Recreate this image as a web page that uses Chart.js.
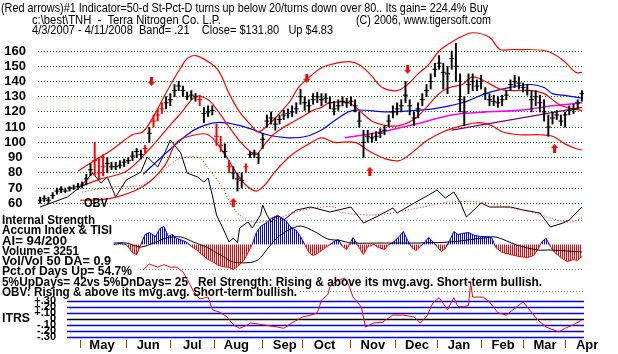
<!DOCTYPE html>
<html>
<head>
<meta charset="utf-8">
<title>TNH</title>
<script src="https://cdn.jsdelivr.net/npm/chart.js@4.4.1/dist/chart.umd.min.js"></script>
<style>
  html, body { margin: 0; padding: 0; background: #fff; }
  #wrap { position: relative; width: 618px; height: 354px; overflow: hidden; background: #fff; }
  #wrap canvas { position: absolute; left: 0; top: 0; }
  .t { position: absolute; white-space: pre; font: 12px "Liberation Sans", Arial, sans-serif; line-height: 12px; color: #000; transform-origin: 0 0; }
  .b { font-weight: bold; }
</style>
</head>
<body>
<div id="wrap">
  <canvas id="chart" width="618" height="354"></canvas>
  <div class="t" data-w="487" style="left:1px;top:2px">(Red arrows)#1 Indicator=50-d St-Pct-D turns up below 20/turns down over 80.. Its gain= 224.4% Buy</div>
  <div class="t" data-w="189" style="left:32px;top:14px">c:\best\TNH  -  Terra Nitrogen Co. L.P.</div>
  <div class="t" data-w="135" style="left:356px;top:14px">(C) 2006, www.tigersoft.com</div>
  <div class="t" data-w="301" style="left:32px;top:24px">4/3/2007 - 4/11/2008  Band= .21    Close= $131.80   Up $4.83</div>
  <div class="t b" data-w="24" style="left:84px;top:196px;font-size:13px;line-height:13px">OBV</div>
  <div class="t b" data-w="93" style="left:2px;top:214px">Internal Strength</div>
  <div class="t b" data-w="110" style="left:2px;top:224px">Accum Index &amp; TISI</div>
  <div class="t b" data-w="65" style="left:2px;top:235px">AI= 94/200</div>
  <div class="t b" data-w="77" style="left:2px;top:245px">Volume= 3251</div>
  <div class="t b" data-w="109" style="left:2px;top:255px">Vol/Vol 50 DA= 0.9</div>
  <div class="t b" data-w="130" style="left:2px;top:265px">Pct.of Days Up= 54.7%</div>
  <div class="t b" data-w="540" style="left:2px;top:276px">5%UpDays= 42vs 5%DnDays= 25   Rel Strength: Rising &amp; above its mvg.avg. Short-term bullish.</div>
  <div class="t b" data-w="295" style="left:2px;top:286px">OBV: Rising &amp; above its mvg.avg. Short-term bullish.</div>
  <div class="t b" data-w="28" style="left:2px;top:311px;font-size:13px;line-height:13px">ITRS</div>
</div>
<script>
// trading day index 0 = 4/3/2007, one price bar every barStep days
const barStep = 2;
const highs = [
  64, 65, 64, 67, 70, 71, 70, 71, 72, 73,
  74, 79, 86, 100, 90, 92, 90, 87, 87, 88,
  89, 90, 94, 96, 95, 98, 110, 118, 122, 126,
  130, 132, 138, 140, 137, 133, 134, 132, 131, 123,
  124, 124, 112, 104, 99, 88, 84, 80, 80, 86,
  94, 95, 93, 106, 118, 120, 116, 118, 121, 122,
  124, 126, 135, 130, 128, 132, 133, 132, 132, 130,
  127, 128, 130, 129, 130, 128, 120, 108, 108, 106,
  107, 109, 111, 118, 124, 126, 128, 140, 128, 120,
  126, 132, 138, 145, 152, 157, 152, 150, 160, 165,
  145, 130, 145, 145, 141, 144, 136, 132, 131, 130,
  131, 134, 141, 144, 143, 139, 138, 134, 134, 131,
  128, 118, 120, 121, 118, 120, 124, 125, 128, 134
];
const lows = [
  60, 61, 60, 63, 66, 67, 67, 68, 69, 69,
  70, 72, 78, 78, 76, 78, 80, 82, 82, 83,
  84, 86, 88, 90, 89, 93, 100, 110, 114, 119,
  122, 124, 130, 134, 130, 128, 128, 127, 124, 113,
  117, 118, 98, 94, 90, 80, 76, 68, 70, 80,
  90, 90, 86, 96, 110, 112, 108, 112, 115, 116,
  117, 119, 125, 121, 120, 125, 126, 124, 126, 122,
  118, 121, 124, 123, 124, 120, 110, 90, 100, 100,
  101, 103, 105, 110, 116, 118, 120, 126, 118, 111,
  116, 124, 130, 135, 143, 148, 135, 132, 148, 140,
  120, 111, 132, 134, 134, 135, 128, 124, 124, 123,
  124, 128, 134, 136, 135, 133, 131, 120, 124, 120,
  114, 104, 112, 115, 111, 110, 118, 119, 122, 127
];
const closes = [
  62, 63, 62, 65, 68, 69, 68, 70, 70, 71,
  72, 76, 82, 88, 80, 84, 86, 84, 84, 85,
  87, 88, 91, 94, 92, 96, 106, 114, 118, 122,
  126, 128, 134, 137, 134, 130, 131, 130, 128, 119,
  120, 121, 104, 98, 94, 84, 80, 76, 75, 84,
  92, 93, 90, 102, 114, 116, 112, 115, 118, 119,
  120, 122, 130, 126, 124, 128, 130, 128, 129, 126,
  122, 124, 127, 126, 127, 124, 114, 100, 104, 103,
  104, 106, 108, 114, 120, 122, 124, 131, 124, 116,
  122, 128, 134, 140, 148, 152, 146, 145, 155, 150,
  128, 120, 138, 140, 137, 140, 132, 128, 127, 126,
  128, 131, 138, 140, 139, 136, 134, 128, 130, 126,
  120, 110, 116, 118, 114, 118, 121, 122, 126, 132
];
const redBarDays = [26, 28, 30, 50, 54, 56, 58, 76, 84, 86, 90, 98];

// [day, value]
const upperBand = [[18,81],[27,89],[33,94],[36,97],[44,105],[49,107],[54,117],[59,130],[63,140],[67,149],[70,155],[74,157],[80,153],[85,147],[90,132],[95,120],[100,112],[104,107],[109,112],[114,119],[119,127],[123,136],[130,145],[134,149],[138,151],[147,153],[152,151],[157,145],[163,136],[170,134],[175,138],[180,145],[185,151],[190,160],[195,165],[200,169],[206,172],[214,169],[219,161],[225,161],[241,160],[249,154],[255,146],[258,146]];
const midBand = [[19,71],[29,76],[41,81],[51,94],[63,113],[67,119],[74,130],[80,128],[85,120],[90,110],[95,101],[100,94],[103,92],[106,97],[111,105],[116,110],[120,113],[125,117],[130,121],[134,123],[138,126],[147,126],[152,121],[158,114],[165,111],[171,111],[178,115],[184,123],[190,132],[195,136],[201,138],[206,143],[212,140],[219,135],[225,134],[234,134],[240,132],[247,125],[253,122],[258,121]];
const lowerBand = [[19,62],[33,63],[49,71],[59,84],[65,100],[71,104],[80,105],[88,92],[93,81],[98,72],[103,68],[107,72],[112,81],[120,92],[128,99],[134,103],[140,100],[150,100],[157,94],[165,89],[171,88],[176,92],[184,101],[192,107],[201,111],[209,113],[215,111],[220,107],[228,105],[238,105],[244,104],[250,99],[255,96],[258,95]];
const ma50 = [[49,79],[60,93],[70,105],[76,110],[84,113],[92,112],[100,109],[108,105],[118,103],[127,104],[135,109],[141,115],[149,121],[165,120],[179,121],[187,122],[195,124],[201,126],[205,128],[212,132],[220,135],[233,138],[240,136],[244,132],[249,131],[258,129]];
const ma200 = [[145,103],[163,107],[179,112],[196,118],[212,120],[228,121],[244,124],[258,126]];
const trendLine = [[196,108],[258,123]];
const obv = [[0,133],[13,143],[19,153],[25,167],[29,157],[32,163],[36,143],[41,160],[48,168],[51,183],[56,173],[60,190],[62,200],[67,187],[70,167],[75,163],[78,158],[80,162],[82,145],[84,125],[87,112],[90,98],[92,102],[94,97],[95,112],[99,118],[101,112],[105,125],[106,135],[108,125],[110,118],[113,125],[116,120],[122,130],[129,133],[138,128],[148,133],[154,117],[160,123],[168,132],[170,127],[179,138],[185,145],[189,150],[193,142],[197,148],[200,138],[203,123],[210,137],[214,133],[224,133],[230,130],[238,127],[243,113],[249,117],[252,120],[258,133]];
const obvAvg = [[20,148],[33,153],[49,155],[57,167],[65,180],[70,183],[76,182],[80,172],[87,152],[91,135],[95,125],[101,118],[111,120],[120,127],[130,132],[140,133],[143,128],[159,125],[175,130],[187,135],[195,138],[210,138],[222,133],[234,128],[246,120],[253,118],[258,122]];
const accumIndex = [[35,0],[38,1],[41,0],[44,-8],[46,-10],[48,0],[50,10],[52,12],[55,8],[57,16],[59,18],[61,8],[63,10],[65,6],[68,4],[70,2],[72,-2],[75,-6],[77,-10],[80,-15],[82,-17],[85,-21],[87,-22],[90,-23],[92,-25],[94,-22],[97,-16],[99,-8],[101,0],[103,12],[105,18],[108,22],[110,26],[112,28],[114,28],[117,24],[119,18],[122,14],[124,8],[126,0],[128,-8],[130,-11],[132,-9],[134,-6],[136,-3],[138,0],[140,3],[142,5],[144,-2],[146,-5],[148,3],[149,7],[151,0],[154,-10],[156,-2],[159,0],[161,-3],[164,-5],[166,0],[168,2],[171,8],[173,13],[175,4],[177,-3],[179,-6],[181,-2],[183,2],[185,7],[187,3],[189,-2],[191,-7],[193,-4],[195,4],[197,13],[199,10],[201,11],[204,12],[207,9],[210,8],[213,8],[215,7],[217,-3],[220,-8],[224,-10],[228,-12],[232,-13],[235,-11],[237,-5],[239,3],[241,6],[243,-2],[245,-8],[248,-13],[251,-17],[254,-15],[256,-16],[258,-12]];
const tisi = [[35,1.5],[41,1.5],[48,-2.5],[54,1.5],[60,6.5],[67,7.5],[73,2.5],[79,-2.5],[86,-10.5],[92,-17.5],[100,-18],[104,-15],[108,-5],[113,7],[118,14],[124,18.5],[131,12.5],[137,5.5],[143,4],[148,1.5],[164,1.5],[180,1.5],[195,2.5],[211,6.5],[217,7.5],[227,-0.5],[237,-5.5],[243,-5.5],[258,-7.5]];
const itrs = [[49,0.81],[52,0.91],[56,0.86],[59,0.90],[62,0.86],[65,0.86],[68,0.78],[70,0.66],[73,0.46],[76,0.33],[80,0.36],[82,0.15],[86,0.10],[89,0.03],[92,-0.10],[95,-0.16],[99,-0.10],[100,-0.07],[106,-0.10],[113,-0.14],[116,-0.16],[120,-0.07],[125,0.03],[129,0.06],[132,0.10],[134,0.31],[137,0.40],[138,0.53],[140,0.60],[143,0.65],[145,0.68],[147,0.56],[149,0.36],[151,0.28],[153,0.19],[155,-0.14],[159,-0.07],[163,-0.06],[168,0.06],[173,0.06],[178,0.03],[181,-0.07],[184,0.03],[187,0.26],[190,0.35],[194,0.15],[197,0.35],[199,0.20],[202,0.20],[204,0.22],[205,0.60],[206,0.36],[211,0.36],[214,0.28],[218,0.10],[222,0.06],[227,0.20],[230,0.28],[233,0.15],[237,-0.02],[241,-0.14],[247,-0.22],[250,-0.16],[254,-0.10],[258,-0.02]];
const sellArrows = [[53,140],[127,142],[175,148]];
const buyArrows = [[92,60.5],[157,81],[245,96]];

const monthStarts = [19, 41, 62, 83, 106, 125, 148, 169, 189, 210, 230, 250];
const monthLabels = ['May', 'Jun', 'Jul', 'Aug', 'Sep', 'Oct', 'Nov', 'Dec', 'Jan', 'Feb', 'Mar', 'Apr'];
const priceTicks = [60, 70, 80, 90, 100, 110, 120, 130, 140, 150, 160];
const itrsLevels = [0.3, 0.2, 0.1, 0, -0.1, -0.2, -0.3];
const itrsLevelText = ['+.30', '+.20', '+.10', '0', '-.10', '-.20', '-.30'];

const FONT = '"Liberation Sans", Arial, sans-serif';
Chart.defaults.font.family = FONT;

const toXY = pts => pts.map(p => ({x: p[0], y: p[1]}));
const barColor = ctx => (ctx.raw && redBarDays.includes(ctx.raw.x)) ? '#ff0000' : '#000000';

function stripes(color) {
    const c = document.createElement('canvas');
    c.width = 2; c.height = 1;
    const g = c.getContext('2d');
    g.fillStyle = color;
    g.fillRect(0, 0, 1, 1);
    return g.createPattern(c, 'repeat');
}

function arrow(down) {
    const c = document.createElement('canvas');
    c.width = 7; c.height = 9;
    const g = c.getContext('2d');
    g.fillStyle = '#ff0000';
    g.beginPath();
    if (down) {
        g.moveTo(2, 0); g.lineTo(5, 0); g.lineTo(5, 5); g.lineTo(7, 5); g.lineTo(3.5, 9); g.lineTo(0, 5); g.lineTo(2, 5);
    } else {
        g.moveTo(2, 9); g.lineTo(5, 9); g.lineTo(5, 4); g.lineTo(7, 4); g.lineTo(3.5, 0); g.lineTo(0, 4); g.lineTo(2, 4);
    }
    g.closePath();
    g.fill();
    return c;
}

// ITRS level lines and the faint guides of the lower panels
const panelPlugin = {
    id: 'panels',
    beforeDatasetsDraw(chart) {
        const {ctx, chartArea, scales} = chart;
        const right = chartArea.right;
        ctx.save();
        ctx.lineWidth = 1;
        ctx.strokeStyle = '#909090';
        ctx.setLineDash([1, 2]);
        [[24.5, 113], [-24.5, 140], [-46.5, 300]].forEach(([v, x0]) => {
            const y = Math.round(scales.yAI.getPixelForValue(v)) + 0.5;
            ctx.beginPath(); ctx.moveTo(x0, y); ctx.lineTo(right, y); ctx.stroke();
        });
        ctx.setLineDash([]);
        itrsLevels.forEach((v) => {
            const y = Math.round(scales.yITRS.getPixelForValue(v)) + 0.5;
            ctx.strokeStyle = v === 0 ? '#000000' : '#0000ff';
            ctx.lineWidth = 1.3;
            ctx.beginPath(); ctx.moveTo(67, y); ctx.lineTo(right, y); ctx.stroke();
        });
        ctx.fillStyle = '#000';
        ctx.font = 'bold 11px ' + FONT;
        ctx.textAlign = 'right';
        ctx.textBaseline = 'middle';
        itrsLevels.forEach((v, i) => {
            ctx.fillText(itrsLevelText[i], 56, scales.yITRS.getPixelForValue(v));
        });
        ctx.restore();
    }
};

const line = (data, color, axis, extra) => Object.assign({
    type: 'line', data: toXY(data), yAxisID: axis, borderColor: color,
    borderWidth: 1, pointRadius: 0, tension: 0, fill: false, order: 3
}, extra || {});

new Chart(document.getElementById('chart'), {
    type: 'bar',
    data: {
        datasets: [
            {
                type: 'scatter', data: toXY(buyArrows), yAxisID: 'y',
                pointStyle: arrow(false), pointRadius: 5, order: -2
            },
            {
                type: 'scatter', data: toXY(sellArrows), yAxisID: 'y',
                pointStyle: arrow(true), pointRadius: 5, order: -2
            },
            {
                type: 'scatter', data: closes.map((c, i) => ({x: i * barStep, y: c})), yAxisID: 'y',
                pointStyle: 'line', pointRadius: 2.5, pointBorderWidth: 1,
                pointBorderColor: barColor, order: -1
            },
            {
                type: 'bar', data: highs.map((h, i) => ({x: i * barStep, y: [lows[i], h]})), yAxisID: 'y',
                backgroundColor: barColor, barThickness: 1.3, borderWidth: 0, order: 0
            },
            line(upperBand, '#ff0000', 'y', {borderWidth: 1.2, tension: 0.35}),
            line(midBand, '#ff0000', 'y', {borderWidth: 1.2, tension: 0.35}),
            line(lowerBand, '#ff0000', 'y', {borderWidth: 1.2, tension: 0.35}),
            line(ma50, '#0000ff', 'y', {borderWidth: 1.2, tension: 0.35}),
            line(ma200, '#ff00ff', 'y', {borderWidth: 1.6, tension: 0.3}),
            line(trendLine, '#800080', 'y', {borderWidth: 1.2}),
            line(obvAvg, '#ff0000', 'yOBV', {borderDash: [1, 2], tension: 0.3, order: 4}),
            line(obv, '#000000', 'yOBV', {order: 4}),
            line(tisi, '#000000', 'yAI', {tension: 0.3, order: 4}),
            line(accumIndex, '#0000ff', 'yAI', {
                order: 5,
                segment: {borderColor: c => (c.p0.parsed.y + c.p1.parsed.y) < 0 ? '#ff0000' : '#0000ff'},
                fill: {target: {value: 0}, above: stripes('#0000ff'), below: stripes('#ff0000')}
            }),
            line(itrs, '#ff0000', 'yITRS', {order: 2})
        ]
    },
    options: {
        responsive: false,
        animation: false,
        devicePixelRatio: 1,
        layout: {padding: {left: 0, right: 34, top: 30, bottom: 0}},
        plugins: {legend: {display: false}, tooltip: {enabled: false}},
        scales: {
            x: {
                type: 'linear', min: -1, max: 259, offset: false,
                afterBuildTicks: s => { s.ticks = monthStarts.map(v => ({value: v})); },
                afterFit: s => { s.height = 14; s.paddingLeft = 0; s.paddingRight = 0; },
                ticks: {
                    callback: (v, i) => monthLabels[i], autoSkip: false, maxRotation: 0,
                    labelOffset: 22, padding: -10, color: '#000',
                    font: {family: FONT, size: 13, weight: 'bold'}
                },
                grid: {drawOnChartArea: false, tickLength: 8, color: '#6b6000', offset: false},
                border: {display: false}
            },
            y: {
                position: 'left', min: -29.8, max: 173.8,
                afterBuildTicks: s => { s.ticks = priceTicks.map(v => ({value: v})); },
                afterFit: s => { s.width = 38; s.paddingTop = 0; s.paddingBottom = 0; },
                ticks: {crossAlign: 'center', padding: 12, color: '#000', font: {family: FONT, size: 13, weight: 'bold'}},
                grid: {color: '#008000', drawTicks: false},
                border: {display: false, dash: [1, 2]}
            },
            yOBV: {display: false, min: 0, max: 310},
            yAI: {display: false, min: -95.5, max: 214.5},
            yITRS: {display: false, min: -0.355, max: 4.812}
        }
    },
    plugins: [panelPlugin]
});

// squeeze each text line to the width it has in the original picture
document.querySelectorAll('.t').forEach(el => {
    const w = +el.dataset.w;
    const a = el.getBoundingClientRect().width;
    if (w && a) el.style.transform = 'scaleX(' + (w / a).toFixed(3) + ')';
});
</script>
</body>
</html>
